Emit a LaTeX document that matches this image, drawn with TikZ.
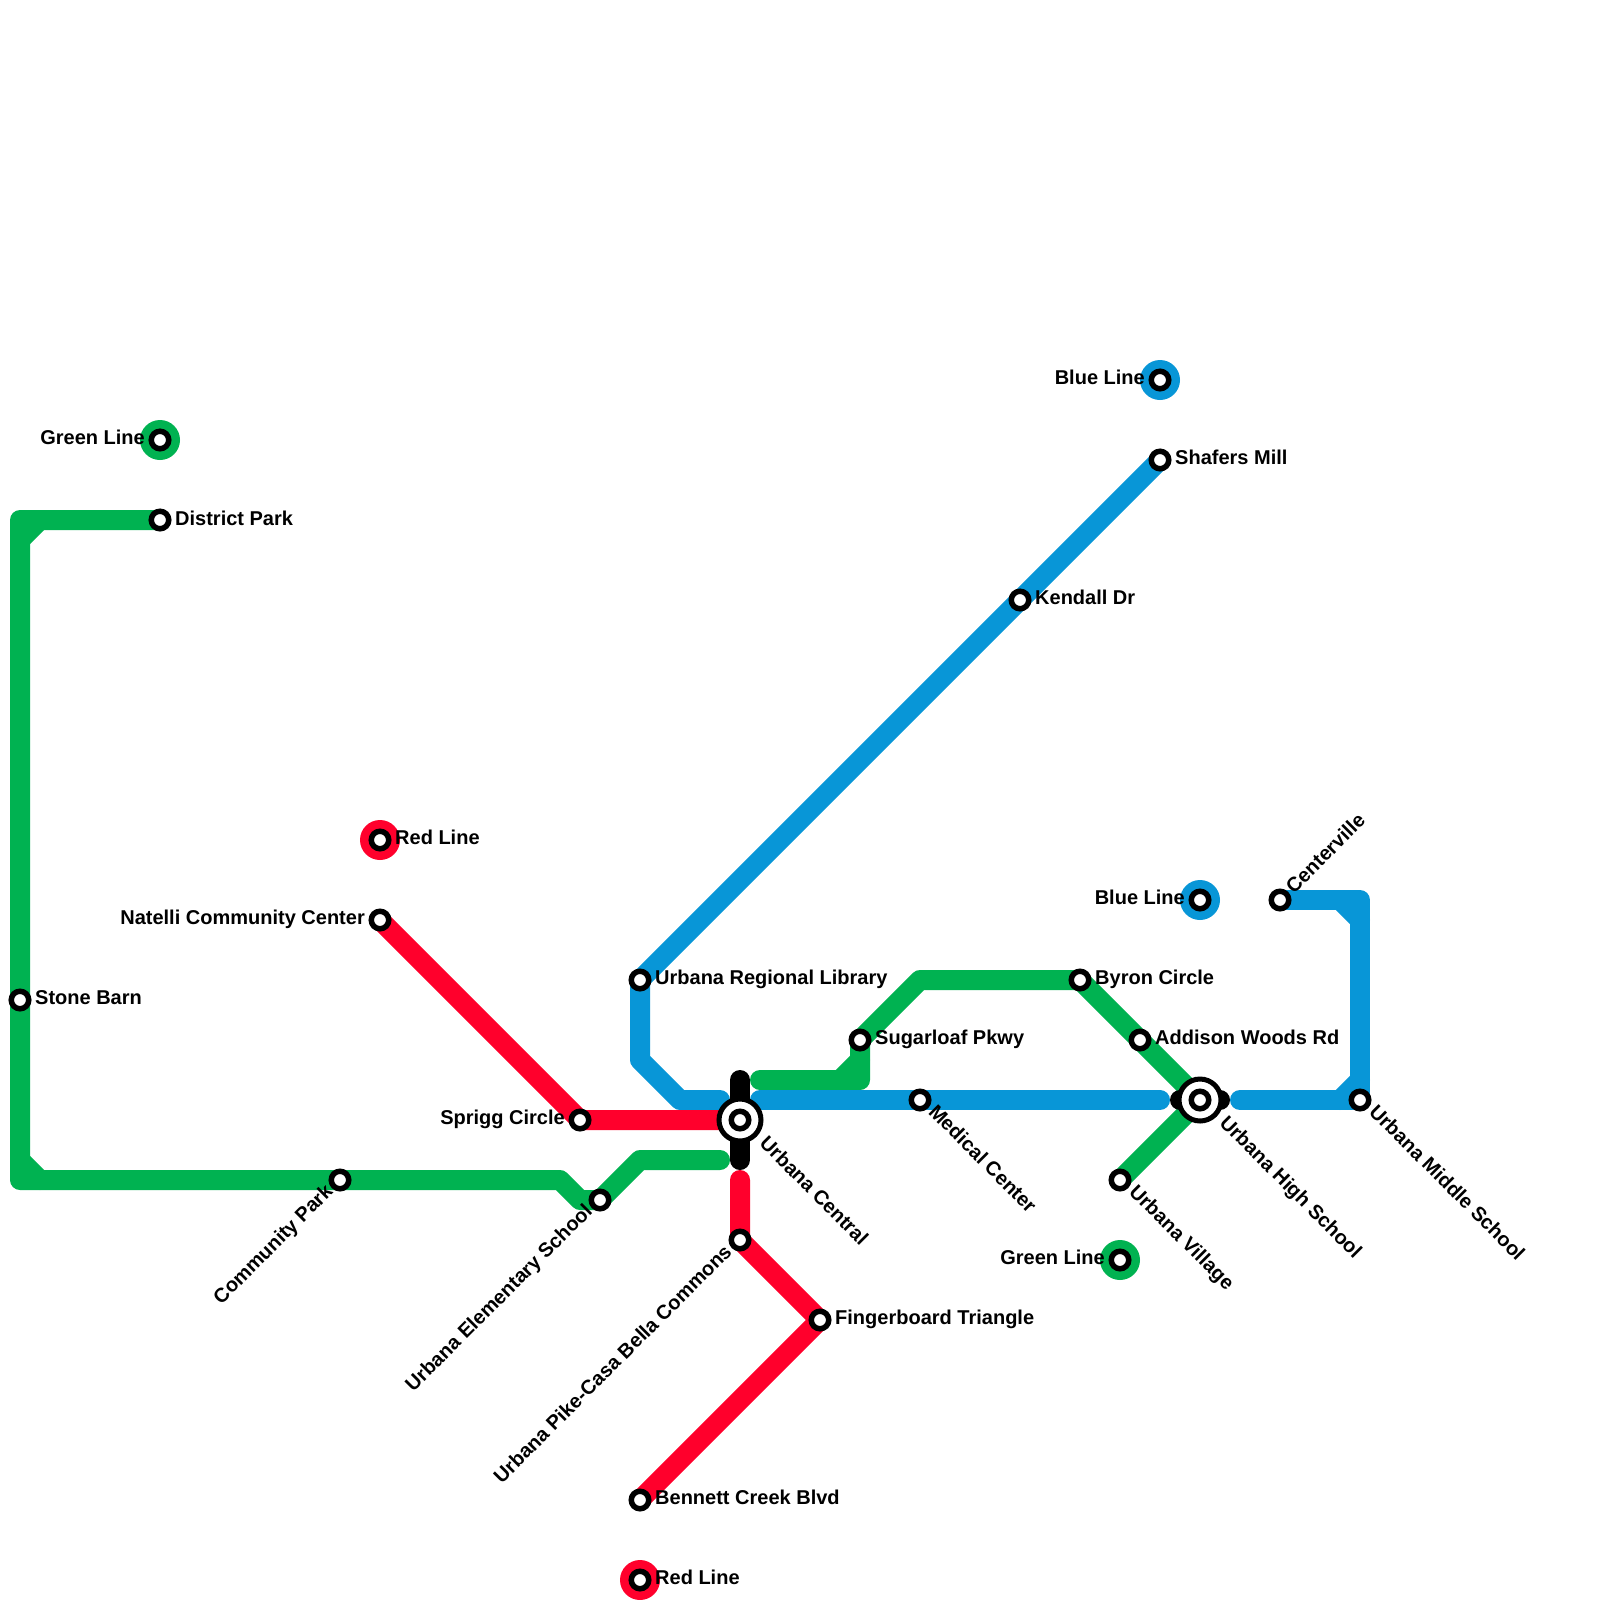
\documentclass[tikz,border=0pt]{standalone}
\usepackage{fontspec}
\setmainfont{Liberation Sans}
\usetikzlibrary{backgrounds}
\definecolor{gl}{HTML}{00B251}
\definecolor{bl}{HTML}{0896D7}
\definecolor{rl}{HTML}{FF002C}
\tikzset{
  stn/.style={circle,draw=black,fill=white,line width=5.5pt,minimum size=17.5pt,inner sep=0pt},
  hub/.style={circle,draw=black,fill=white,line width=5pt,minimum size=42pt,inner sep=0pt},
  mark/.style={circle,fill=#1,minimum size=40pt,inner sep=0pt},
  ln/.style={draw=#1,line width=20pt,line cap=round,line join=round},
  lbl/.style={font=\bfseries\fontsize{20}{22}\selectfont,inner sep=0pt,text=black},
  r/.style={lbl,anchor=base west},
  l/.style={lbl,anchor=base east}
}
\begin{document}
\begin{tikzpicture}[x=1pt,y=-1pt]
\useasboundingbox (0,0) rectangle (1600,1600);
% markers
\node[mark=gl] (mgreenA) at (160,440) {};
\node[mark=rl] (mredA) at (380,840) {};
\node[mark=rl] (mredB) at (640,1580) {};
\node[mark=bl] (mblueA) at (1160,380) {};
\node[mark=bl] (mblueB) at (1200,900) {};
\node[mark=gl] (mgreenB) at (1120,1260) {};
% hubs
\node[hub] (hubC) at (740,1120) {};
\node[hub] (hubH) at (1200,1100) {};
% stations
\node[stn] (mA) at (160,440) {};
\node[stn] (district) at (160,520) {};
\node[stn] (stone) at (20,1000) {};
\node[stn] (community) at (340,1180) {};
\node[stn] (elementary) at (600,1200) {};
\node[stn] (central) at (740,1120) {};
\node[stn] (mB) at (380,840) {};
\node[stn] (natelli) at (380,920) {};
\node[stn] (sprigg) at (580,1120) {};
\node[stn] (pike) at (740,1240) {};
\node[stn] (finger) at (820,1320) {};
\node[stn] (bennett) at (640,1500) {};
\node[stn] (mC) at (640,1580) {};
\node[stn] (library) at (640,980) {};
\node[stn] (shafers) at (1160,460) {};
\node[stn] (mD) at (1160,380) {};
\node[stn] (kendall) at (1020,600) {};
\node[stn] (sugar) at (860,1040) {};
\node[stn] (medical) at (920,1100) {};
\node[stn] (byron) at (1080,980) {};
\node[stn] (addison) at (1140,1040) {};
\node[stn] (high) at (1200,1100) {};
\node[stn] (village) at (1120,1180) {};
\node[stn] (mE) at (1120,1260) {};
\node[stn] (mF) at (1200,900) {};
\node[stn] (center) at (1280,900) {};
\node[stn] (middle) at (1360,1100) {};
% free ends
\coordinate (gE) at (720,1160);
\coordinate (gS) at (760,1080);
\coordinate (bE) at (720,1100);
\coordinate (bS) at (760,1100);
\coordinate (bT) at (1160,1100);
\coordinate (bU) at (1240,1100);
\coordinate (rE) at (740,1180);
\begin{pgfonlayer}{background}
\fill[white] (0,0) rectangle (1600,1600);
\path[ln=gl] (district.center) -- (20,520) -- (stone.center) -- (20,1180) -- (community.center) -- (560,1180) -- (580,1200) -- (elementary.center) -- (640,1160) -- (gE);
\path[ln=gl] (20,540) -- (40,520);
\path[ln=gl] (20,1160) -- (40,1180);
\path[ln=gl] (gS) -- (860,1080) -- (sugar.center) -- (920,980) -- (byron.center) -- (addison.center) -- (high.center);
\path[ln=gl] (840,1080) -- (860,1060);
\path[ln=gl] (village.center) -- (high.center);
\path[ln=bl] (shafers.center) -- (kendall.center) -- (library.center) -- (640,1060) -- (680,1100) -- (bE);
\path[ln=bl] (bS) -- (medical.center) -- (bT);
\path[ln=bl] (center.center) -- (1360,900) -- (middle.center) -- (bU);
\path[ln=bl] (1340,900) -- (1360,920);
\path[ln=bl] (1340,1100) -- (1360,1080);
\path[ln=rl] (natelli.center) -- (sprigg.center) -- (central.center);
\path[ln=rl] (rE) -- (pike.center) -- (finger.center) -- (bennett.center);
\path[ln=black] (740,1080) -- (central.center) -- (740,1160);
\path[ln=black] (1180,1100) -- (high.center) -- (1220,1100);
\end{pgfonlayer}
% labels
\node[l] (tA) at (145,444.5) {Green Line};
\node[r] (tB) at (175,525) {District Park};
\node[r] (tC) at (35,1004.5) {Stone Barn};
\node[lbl,anchor=base east,rotate=45] (tD) at (334,1192.5) {Community Park};
\node[lbl,anchor=base east,rotate=45] (tE) at (593.5,1212.5) {Urbana Elementary School};
\node[lbl,anchor=base west,rotate=-45] (tF) at (758.5,1144.5) {Urbana Central};
\node[r] (tG) at (395,844.5) {Red Line};
\node[l] (tH) at (365,924.5) {Natelli Community Center};
\node[l] (tI) at (565,1124.5) {Sprigg Circle};
\node[lbl,anchor=base east,rotate=45] (tJ) at (733,1253) {Urbana Pike-Casa Bella Commons};
\node[r] (tK) at (835,1324.5) {Fingerboard Triangle};
\node[r] (tL) at (655,1504.5) {Bennett Creek Blvd};
\node[r] (tM) at (655,1584.5) {Red Line};
\node[r] (tN) at (655,984.5) {Urbana Regional Library};
\node[r] (tO) at (1175,464.5) {Shafers Mill};
\node[l] (tP) at (1145,384.5) {Blue Line};
\node[r] (tQ) at (1035,604) {Kendall Dr};
\node[r] (tR) at (875,1044.5) {Sugarloaf Pkwy};
\node[lbl,anchor=base west,rotate=-45] (tS) at (927.5,1113) {Medical Center};
\node[r] (tT) at (1095,984.5) {Byron Circle};
\node[r] (tU) at (1155,1044.5) {Addison Woods Rd};
\node[lbl,anchor=base west,rotate=-45] (tV) at (1218.5,1124) {Urbana High School};
\node[lbl,anchor=base west,rotate=-45] (tW) at (1128,1193) {Urbana Village};
\node[l] (tX) at (1105,1264.5) {Green Line};
\node[l] (tY) at (1185,904.5) {Blue Line};
\node[lbl,anchor=base west,rotate=45] (tZ) at (1294,894.5) {Centerville};
\node[lbl,anchor=base west,rotate=-45] (tAA) at (1368,1113) {Urbana Middle School};
\end{tikzpicture}
\end{document}
